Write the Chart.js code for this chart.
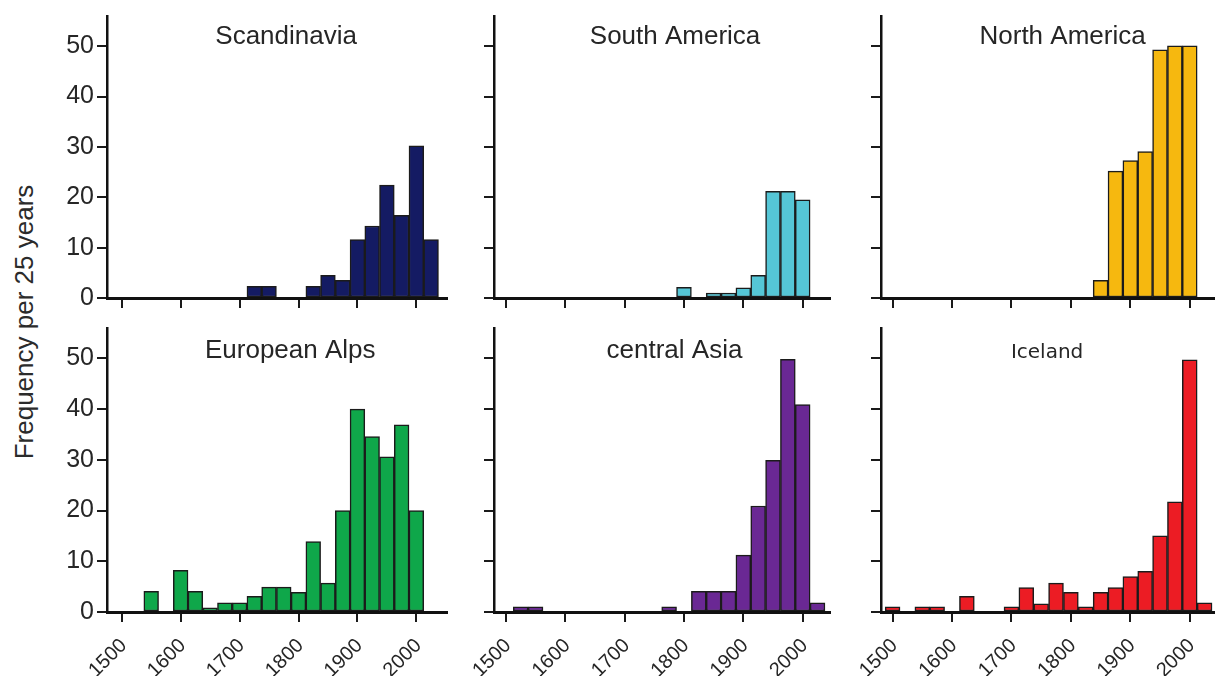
<!DOCTYPE html>
<html><head><meta charset="utf-8">
<script src="https://cdn.jsdelivr.net/npm/chart.js@4"></script>
<style>
html,body{margin:0;padding:0;background:#fff;width:1215px;height:677px;overflow:hidden;position:relative;font-family:"Liberation Sans",Arial,sans-serif}
canvas{position:absolute}
#ytitle{position:absolute;left:24px;top:322px;transform:translate(-50%,-50%) rotate(-90deg);font-size:26px;color:#2b2b2b;white-space:nowrap;line-height:1}
</style></head><body>
<div id="ytitle">Frequency per 25 years</div>
<script>
// ---- data (bin centres, 25-year bins) ----
const binYears = [1500,1525,1550,1575,1600,1625,1650,1675,1700,1725,1750,1775,1800,1825,1850,1875,1900,1925,1950,1975,2000,2025];
const scandinavia  = [0,0,0,0,0,0,0,0,0,2.3,2.3,0,0,2.3,4.5,3.5,11.6,14.3,22.4,16.4,30.2,11.6];
const southAmerica = [0,0,0,0,0,0,0,0,0,0,0,0,2.1,0,1.0,1.0,2.0,4.5,21.2,21.2,19.5,0];
const northAmerica = [0,0,0,0,0,0,0,0,0,0,0,0,0,0,3.5,25.2,27.3,29.1,49.3,50.1,50.1,0];
const europeanAlps = [0,0,4.1,0,8.2,4.1,0.8,1.8,1.8,3.1,4.9,4.9,3.9,13.9,5.7,20.0,40.0,34.6,30.6,36.9,20.0,0];
const centralAsia  = [0,1.0,1.0,0,0,0,0,0,0,0,0,1.0,0,4.1,4.1,4.1,11.2,20.9,29.9,49.8,40.9,1.8];
const iceland      = [1.0,0,1.0,1.0,0,3.1,0,0,1.0,4.8,1.6,5.7,3.9,1.0,3.9,4.8,7.0,8.0,15.0,21.7,49.7,1.8];
const tickYears = [1500,1600,1700,1800,1900,2000];
const yTicks = [0,10,20,30,40,50];
const panelTitles = ['Scandinavia','South America','North America','European Alps','central Asia','Iceland'];
const panelColors = ['#141b63','#55c6d6','#f6b80f','#0fa74a','#6a2894','#ec1c24'];
const panelSeries = [scandinavia, southAmerica, northAmerica, europeanAlps, centralAsia, iceland];

// ---- layout ----
const cols = [
  {left:107, xMin:1475, xMax:2052, ppy:0.5886},
  {left:494, xMin:1480, xMax:2046, ppy:0.593},
  {left:881, xMin:1480.5, xMax:2042.5, ppy:0.594}
];
const rows = [
  {top:16, h:282, xh:20, showX:false, titleOff:27.5},
  {top:328, h:284, xh:64, showX:true, titleOff:29.5}
];
const titleAnchors = [1779, 1785, 1786, 1786, 1784, 1760];
const YW = 50, PADL = 8, PADT = 12, PADR = 4;
const TXT = '#262626';
Chart.defaults.font.family = '"Liberation Sans", Arial, sans-serif';

const panelTitlePlugin = {
  id: 'panelTitle',
  afterDraw(chart, args, o) {
    const {ctx, chartArea, scales} = chart;
    ctx.save();
    ctx.font = o.font; ctx.fillStyle = o.color;
    ctx.textAlign = 'center'; ctx.textBaseline = 'alphabetic';
    ctx.fillText(o.text, scales.x.getPixelForValue(o.anchor), chartArea.top + o.offset);
    ctx.restore();
  }
};

panelSeries.forEach((series, p) => {
  const r = rows[Math.floor(p / 3)], c = cols[p % 3];
  const cw = Math.round((c.xMax - c.xMin) * c.ppy);
  const W = PADL + YW + cw + PADR, H = PADT + r.h + r.xh;
  const cv = document.createElement('canvas');
  cv.width = W; cv.height = H;
  cv.style.left = (c.left - YW - PADL) + 'px';
  cv.style.top = (r.top - PADT) + 'px';
  cv.style.width = W + 'px'; cv.style.height = H + 'px';
  document.body.appendChild(cv);
  new Chart(cv, {
    type: 'bar',
    data: { datasets: [{
      data: binYears.map((x, i) => ({x, y: series[i]})),
      backgroundColor: panelColors[p],
      borderColor: '#1b1b1b', borderWidth: 1.5, borderSkipped: false,
      barPercentage: 1, categoryPercentage: 1
    }]},
    options: {
      responsive: false, animation: false, devicePixelRatio: 1,
      layout: { padding: {left: PADL, top: PADT, right: PADR, bottom: 0} },
      plugins: {
        legend: {display: false}, tooltip: {enabled: false},
        panelTitle: {
          text: panelTitles[p], anchor: titleAnchors[p], offset: r.titleOff, color: TXT,
          font: p === 5 ? '20px "DejaVu Sans", sans-serif' : '26px "Liberation Sans", Arial, sans-serif'
        }
      },
      scales: {
        x: {
          type: 'linear', min: c.xMin, max: c.xMax, offset: false,
          afterBuildTicks: s => { s.ticks = tickYears.map(v => ({value: v})); },
          afterFit: s => { s.height = r.xh; s.paddingLeft = 0; s.paddingRight = 0; },
          ticks: { display: r.showX, autoSkip: false, maxRotation: 45, minRotation: 45, padding: 12,
                   labelOffset: 2, color: TXT, font: {size: 20}, callback: v => String(v) },
          grid: { offset: false, drawOnChartArea: false, drawTicks: true, tickLength: 10, color: '#1a1a1a', lineWidth: 2 },
          border: { display: true, color: '#111', width: 3 }
        },
        y: {
          min: 0, max: 56,
          afterBuildTicks: s => { s.ticks = yTicks.map(v => ({value: v})); },
          afterFit: s => { s.width = YW; s.paddingTop = 0; s.paddingBottom = 0; },
          ticks: { display: p % 3 === 0, padding: 3, color: TXT, font: {size: 25}, callback: v => String(v) },
          grid: { drawOnChartArea: false, drawTicks: true, tickLength: 10, color: '#1a1a1a', lineWidth: 2 },
          border: { display: true, color: '#111', width: 2.5 }
        }
      }
    },
    plugins: [panelTitlePlugin]
  });
});
</script>
</body></html>
